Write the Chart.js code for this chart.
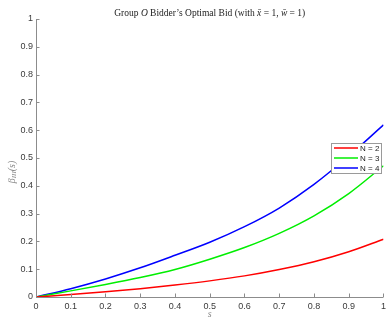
<!DOCTYPE html>
<html>
<head>
<meta charset="utf-8">
<script src="https://cdn.jsdelivr.net/npm/chart.js@4/dist/chart.umd.min.js"></script>
<style>
  html, body { margin: 0; padding: 0; background: #fff; }
  #wrap { width: 390px; height: 320px; }
</style>
</head>
<body>
<div id="wrap"><canvas id="c" width="390" height="320"></canvas></div>
<script>
// Bidder signal s on the horizontal axis
const sValues = [0, 0.1, 0.2, 0.3, 0.4, 0.5, 0.6, 0.7, 0.8, 0.9, 1.0];
// Optimal bid for each number of bidders
const bidN2 = [0, 0.009, 0.019, 0.030, 0.043, 0.058, 0.076, 0.099, 0.127, 0.163, 0.208];
const bidN3 = [0, 0.022, 0.045, 0.070, 0.099, 0.136, 0.178, 0.229, 0.292, 0.372, 0.472];
const bidN4 = [0, 0.030, 0.065, 0.105, 0.150, 0.197, 0.253, 0.320, 0.405, 0.507, 0.619];
const seriesLabels = ['N = 2', 'N = 3', 'N = 4'];
const tickValues = [0, 0.1, 0.2, 0.3, 0.4, 0.5, 0.6, 0.7, 0.8, 0.9, 1];

const colors = ['#ff0000', '#00ee00', '#0000ff'];
const axisColor = '#8c8c8c';
const tickText = '#3a3a3a';
const serif = '"Liberation Serif", "DejaVu Serif", serif';
const sans = '"Liberation Sans", Arial, sans-serif';

const toPoints = ys => sValues.map((s, i) => ({ x: s, y: ys[i] }));

// Inward tick marks, axis titles, title and boxed legend
const decorations = {
  id: 'decorations',
  afterDraw(chart) {
    const ctx = chart.ctx;
    const a = chart.chartArea;
    const xs = chart.scales.x, ys = chart.scales.y;
    ctx.save();
    // axis lines
    ctx.strokeStyle = axisColor;
    ctx.lineWidth = 1;
    ctx.beginPath();
    ctx.moveTo(a.left + 0.5, a.top);
    ctx.lineTo(a.left + 0.5, a.bottom + 0.5);
    ctx.lineTo(a.right, a.bottom + 0.5);
    ctx.stroke();
    // ticks pointing into the plot
    ctx.beginPath();
    tickValues.forEach(v => {
      const px = Math.round(xs.getPixelForValue(v)) + 0.5;
      ctx.moveTo(px, a.bottom);
      ctx.lineTo(px, a.bottom - 3.5);
      const py = Math.round(ys.getPixelForValue(v)) + 0.5;
      ctx.moveTo(a.left, py);
      ctx.lineTo(a.left + 3.5, py);
    });
    ctx.stroke();

    // title with italic math symbols
    const parts = [
      ['Group ', 'normal'], ['O', 'italic'], [' Bidder\u2019s Optimal Bid (with ', 'normal'],
      ['x\u0304', 'italic'], [' = 1, ', 'normal'], ['w\u0304', 'italic'], [' = 1)', 'normal']
    ];
    const size = 9.5;
    let total = 0;
    parts.forEach(p => { ctx.font = p[1] + ' ' + size + 'px ' + serif; total += ctx.measureText(p[0]).width; });
    let x = (a.left + a.right) / 2 - total / 2;
    ctx.fillStyle = '#222';
    ctx.textBaseline = 'middle';
    ctx.textAlign = 'left';
    parts.forEach(p => {
      ctx.font = p[1] + ' ' + size + 'px ' + serif;
      ctx.fillText(p[0], x, 13);
      x += ctx.measureText(p[0]).width;
    });

    // x-axis title
    ctx.fillStyle = '#8a8a8a';
    ctx.font = 'italic 10px ' + serif;
    ctx.textAlign = 'center';
    ctx.fillText('s', (a.left + a.right) / 2, 314);

    // y-axis title: beta with subscript III
    ctx.save();
    ctx.translate(12, 172);
    ctx.rotate(-Math.PI / 2);
    ctx.font = 'italic 10px ' + serif;
    const b = '\u03B2', sub = 'III', tail = '(s)';
    const wb = ctx.measureText(b).width;
    ctx.font = 'italic 7px ' + serif;
    const ws = ctx.measureText(sub).width;
    ctx.font = 'italic 10px ' + serif;
    const wt = ctx.measureText(tail).width;
    let yx = -(wb + ws + wt) / 2;
    ctx.textAlign = 'left';
    ctx.fillText(b, yx, 0); yx += wb;
    ctx.font = 'italic 7px ' + serif;
    ctx.fillText(sub, yx, 2.5); yx += ws;
    ctx.font = 'italic 10px ' + serif;
    ctx.fillText(tail, yx, 0);
    ctx.restore();

    // legend box
    const lx = 331, ly = 143, lw = 50, lh = 30;
    ctx.fillStyle = '#fff';
    ctx.fillRect(lx, ly, lw, lh);
    ctx.strokeStyle = '#9a9a9a';
    ctx.lineWidth = 1;
    ctx.strokeRect(lx + 0.5, ly + 0.5, lw, lh);
    ctx.font = '8px ' + sans;
    ctx.textAlign = 'left';
    seriesLabels.forEach((lab, i) => {
      const yy = ly + 5 + i * 10;
      ctx.strokeStyle = colors[i];
      ctx.lineWidth = 1.5;
      ctx.beginPath();
      ctx.moveTo(lx + 3, yy);
      ctx.lineTo(lx + 27, yy);
      ctx.stroke();
      ctx.fillStyle = '#222';
      ctx.fillText(lab, lx + 29, yy + 0.5);
    });
    ctx.restore();
  }
};

new Chart(document.getElementById('c'), {
  type: 'line',
  data: {
    datasets: [bidN2, bidN3, bidN4].map((d, i) => ({
      label: seriesLabels[i],
      data: toPoints(d),
      borderColor: colors[i],
      borderWidth: 1.5,
      pointRadius: 0,
      fill: false,
      cubicInterpolationMode: 'monotone'
    }))
  },
  options: {
    responsive: false,
    animation: false,
    events: [],
    layout: { padding: { left: 0, right: 2, top: 19, bottom: 3 } },
    plugins: { legend: { display: false }, title: { display: false }, tooltip: { enabled: false } },
    scales: {
      x: {
        type: 'linear', min: 0, max: 1,
        afterBuildTicks: s => { s.ticks = tickValues.map(v => ({ value: v })); },
        afterFit: s => { s.height = 20; },
        grid: { display: false, drawTicks: false },
        border: { display: false },
        ticks: {
          padding: 4, color: tickText, font: { family: sans, size: 9 },
          maxRotation: 0, autoSkip: false,
          callback: v => String(Math.round(v * 10) / 10)
        }
      },
      y: {
        type: 'linear', min: 0, max: 1,
        afterBuildTicks: s => { s.ticks = tickValues.map(v => ({ value: v })); },
        afterFit: s => { s.width = 36; },
        grid: { display: false, drawTicks: false },
        border: { display: false },
        ticks: {
          padding: 3, color: tickText, font: { family: sans, size: 9 },
          autoSkip: false,
          callback: v => String(Math.round(v * 10) / 10)
        }
      }
    }
  },
  plugins: [decorations]
});
</script>
</body>
</html>
